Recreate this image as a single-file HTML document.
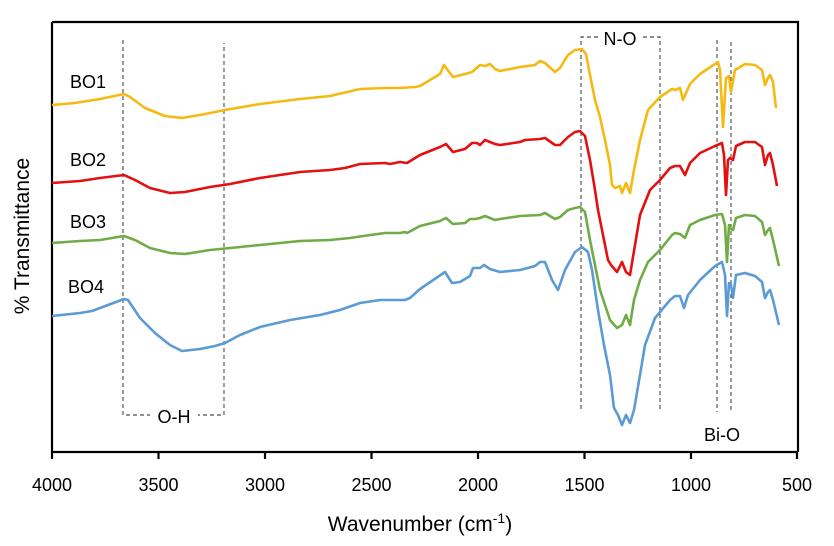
<!DOCTYPE html>
<html><head><style>body{margin:0;background:#fff}svg{display:block}text{font-family:"Liberation Sans",Arial,sans-serif;fill:#000}</style></head><body>
<svg width="834" height="546" xmlns="http://www.w3.org/2000/svg">
<rect x="0" y="0" width="834" height="546" fill="#fff"/>
<path d="M52,22H798V452M52,22V452H798" fill="none" stroke="#000" stroke-width="2.2"/>
<g stroke="#000" stroke-width="2.2">
<line x1="52" y1="452" x2="52" y2="459"/><line x1="158.5" y1="452" x2="158.5" y2="459"/><line x1="265" y1="452" x2="265" y2="459"/><line x1="371.5" y1="452" x2="371.5" y2="459"/><line x1="478" y1="452" x2="478" y2="459"/><line x1="584.5" y1="452" x2="584.5" y2="459"/><line x1="691" y1="452" x2="691" y2="459"/><line x1="797" y1="452" x2="797" y2="459"/>
</g>
<g font-size="18" text-anchor="middle">
<text x="52" y="491">4000</text><text x="158.5" y="491">3500</text><text x="265" y="491">3000</text><text x="371.5" y="491">2500</text><text x="478" y="491">2000</text><text x="584.5" y="491">1500</text><text x="691" y="491">1000</text><text x="797" y="491">500</text>
</g>
<text x="420" y="531" font-size="21" text-anchor="middle">Wavenumber (cm<tspan font-size="14" dy="-8">-1</tspan><tspan dy="8">)</tspan></text>
<text transform="translate(29,236) rotate(-90)" font-size="21" text-anchor="middle">% Transmittance</text>
<g fill="none" stroke="#222" stroke-width="0.9" stroke-dasharray="4,3">
<path d="M123,40V415H224V43"/>
<path d="M581,409V37H660V409"/>
<path d="M717,40V412M731,42V412"/>
</g>
<rect x="150" y="404" width="48" height="22" fill="#fff"/>
<text x="174" y="423" font-size="18" text-anchor="middle">O-H</text>
<rect x="598" y="27" width="44" height="20" fill="#fff"/>
<text x="620" y="45" font-size="18" text-anchor="middle">N-O</text>
<text x="722" y="441" font-size="18" text-anchor="middle">Bi-O</text>
<g font-size="18">
<text x="70" y="88">BO1</text><text x="70" y="166">BO2</text><text x="70" y="228">BO3</text><text x="68" y="293">BO4</text>
</g>
<g fill="none" stroke-width="2.6" stroke-linejoin="round">
<polyline stroke="#F5BA12" points="52,105 75,103 100,99 124,94 130,97 145,108 165,116 182,118 200,115 225,110 260,104 300,99 330,96 360,89 385,88 400,88 415,87 420,86 440,74 444,65 453,77 465,74 472,72 480,65 485,66 490,64 495,69 500,71 520,67 535,65 540,61 545,63 555,72 560,68 568,55 575,50 582,49 586,54 590,75 595,100 600,117 605,140 610,165 612,185 615,188 620,186 622,193 626,183 630,193 634,170 640,140 648,110 660,97 672,89 675,90 680,88 683,100 690,84 700,74 715,64 718,62 720,70 723,127 726,78 729,76 731,92 735,70 745,64 755,65 762,70 765,85 768,78 770,75 773,82 776,108"/>
<polyline stroke="#E41010" points="52,183 80,181 100,178 124,175 135,180 150,188 170,193 185,192 210,187 230,184 260,178 300,172 330,170 345,168 360,164 385,163 390,164 400,162 407,163 420,155 440,147 446,144 453,152 465,149 472,143 477,143 480,145 485,140 490,142 495,144 500,145 520,142 525,140 540,139 545,138 555,145 560,145 568,137 575,132 580,131 585,136 590,160 595,190 598,210 602,230 608,260 611,265 617,272 622,262 626,272 630,275 635,245 640,215 650,190 660,180 670,168 675,166 680,166 685,175 690,163 700,153 715,146 722,143 724,155 726,195 728,160 730,158 733,160 736,146 745,142 755,142 762,147 765,165 768,155 770,153 773,165 777,186"/>
<polyline stroke="#6FAC46" points="52,243 80,241 100,240 124,236 135,240 150,248 170,253 185,254 210,250 230,248 260,245 300,241 330,240 350,238 370,235 385,233 400,233 405,232 407,233 420,226 440,221 446,218 453,224 465,223 470,219 475,219 480,218 485,216 490,218 495,220 500,219 520,216 540,215 545,213 555,219 560,217 568,210 575,208 580,207 585,212 590,240 596,270 600,290 605,305 610,320 617,328 622,325 626,315 630,325 634,300 640,280 648,262 660,250 672,235 675,233 680,234 685,238 690,225 700,220 715,215 722,214 725,225 727,262 729,225 731,229 733,230 736,218 745,215 755,216 762,222 765,235 768,230 770,228 773,240 779,266"/>
<polyline stroke="#5B9BD5" points="52,316 80,313 92,311 100,308 124,299 128,300 140,318 155,333 170,345 182,351 200,349 215,346 225,343 240,335 260,327 290,320 320,315 340,310 360,303 380,300 405,300 410,298 420,289 445,272 452,283 460,282 470,276 473,268 480,268 484,265 490,269 500,272 520,270 535,266 540,262 545,262 552,280 558,290 565,270 575,252 582,247 588,252 592,270 598,310 604,345 610,375 614,408 618,415 622,425 626,415 630,423 634,410 640,375 645,345 655,318 670,300 675,296 680,296 684,308 688,295 700,280 715,266 722,262 725,275 727,316 729,283 731,285 733,298 736,275 745,273 755,276 762,282 765,298 768,292 770,290 773,300 779,325"/>
</g>
</svg>
</body></html>
